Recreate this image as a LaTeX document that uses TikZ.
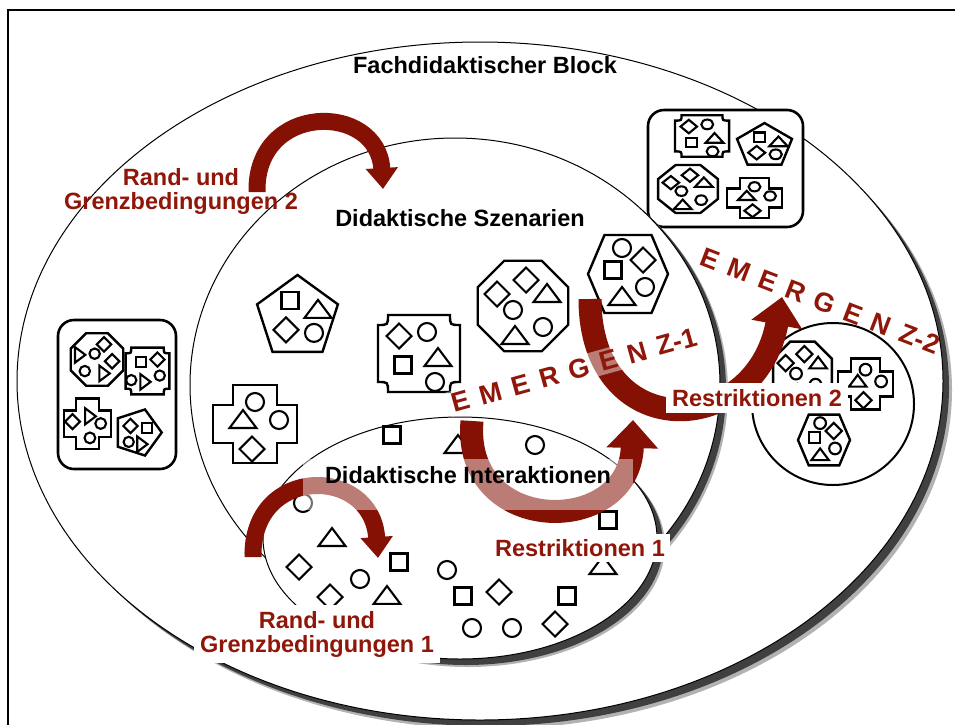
\documentclass[tikz,border=0pt]{standalone}
\usepackage{fontspec}
\setmainfont{Liberation Sans}
\usetikzlibrary{arrows.meta}
\definecolor{emred}{RGB}{143,22,8}
\definecolor{arrred}{RGB}{132,17,4}
\newcommand{\emfont}{\fontsize{27}{29}\selectfont\bfseries\spaceskip=11pt\relax}
\newcommand{\sqshape}[1]{\draw[shp] (#1) +(-8.5,-8.5) rectangle +(8.5,8.5);}
\newcommand{\trishape}[1]{\draw[shp] (#1) +(-13.5,8) -- +(13.5,8) -- +(0,-10) -- cycle;}
\newcommand{\circshape}[1]{\draw[shp] (#1) circle[radius=9];}
\newcommand{\dmdshape}[1]{\draw[shp] (#1) +(0,-12.5) -- +(12.5,0) -- +(0,12.5) -- +(-12.5,0) -- cycle;}
\tikzset{
  shp/.style={line width=2.1pt},
  cont/.style={line width=2.4pt,fill=white},
  lbl/.style={font=\fontsize{23.5}{24}\selectfont\bfseries,align=center},
  redlbl/.style={lbl,text=emred},
  thinarr/.style={draw=arrred,line width=17pt,-{Triangle[width=31pt,length=21pt]}},
  thickarr/.style={draw=arrred,line width=23pt,-{Triangle[width=50pt,length=28pt]}},
  penta/.pic={
    \draw[cont] (-90:42.5) -- (-18:42.5) -- (54:42.5) -- (126:42.5) -- (198:42.5) -- cycle;
    \sqshape{-7.5,-16.6}
    \trishape{20.5,-7.6}
    \dmdshape{-11.5,12.4}
    \circshape{16.5,15.4}
  },
  octa/.pic={
    \draw[cont] (22.5:49) -- (67.5:49) -- (112.5:49) -- (157.5:49) -- (202.5:49) -- (247.5:49) -- (292.5:49) -- (337.5:49) -- cycle;
    \dmdshape{-26,-12}
    \dmdshape{3,-26}
    \trishape{24,-12}
    \circshape{-10,4}
    \circshape{20,21}
    \trishape{-8,30}
  },
  hexa/.pic={
    \draw[cont] (-40,0) -- (-23.5,-39) -- (23.5,-39) -- (40,0) -- (23.5,39) -- (-23.5,39) -- cycle;
    \circshape{-6,-26}
    \dmdshape{15,-14}
    \sqshape{-15,-4}
    \circshape{17,13}
    \trishape{-6,23}
  },
  cross/.pic={
    \draw[cont] (-22,-39) -- (22,-39) -- (22,-19) -- (42,-19) -- (42,19) -- (22,19) -- (22,39) -- (-22,39) -- (-22,19) -- (-42,19) -- (-42,-19) -- (-22,-19) -- cycle;
    \circshape{0,-22}
    \trishape{-12,-4}
    \circshape{24,-4}
    \dmdshape{-3,25}
  },
  plaque/.pic={
    \draw[cont] (-31,-38.5) -- (31,-38.5) .. controls (31,-28.5) .. (41,-28.5) -- (41,28.5) .. controls (31,28.5) .. (31,38.5) -- (-31,38.5) .. controls (-31,28.5) .. (-41,28.5) -- (-41,-28.5) .. controls (-31,-28.5) .. (-31,-38.5) -- cycle;
    \dmdshape{-20,-17.5}
    \circshape{8,-21.5}
    \sqshape{-16,11.5}
    \trishape{19,4.5}
    \circshape{16,28.5}
  }
}
\begin{document}
\begin{tikzpicture}[x=1pt,y=-1pt]
\useasboundingbox (0,0) rectangle (955,724);
\clip (0,0) rectangle (955,724);
\draw[line width=2.5pt] (8,10) rectangle (990,760);
\fill[black!30] (489,390) ellipse[x radius=463,y radius=339];
\fill[black!75] (486,387) ellipse[x radius=463,y radius=339];
\draw[line width=1pt,fill=white] (480,381) ellipse[x radius=463,y radius=339];
\node[lbl] (fachblock) at (485,65) {Fachdidaktischer Block};
\draw[cont,line width=2.6pt,rounded corners=16pt] (648,110) rectangle (803,227);
\pic[xscale=.66,yscale=.54] at (702,136) {plaque};
\pic[xscale=.68,yscale=.54] at (764.5,146) {penta};
\pic[xscale=.66,yscale=.53] at (688,189) {octa};
\pic[xscale=.65,yscale=.51] at (754.5,198) {cross};
\draw[cont,line width=2.6pt,rounded corners=16pt] (58,320) rectangle (176,469);
\pic[scale=.58,rotate=-90] at (97,359.5) {octa};
\pic[scale=.57,rotate=-90] at (147.5,371) {plaque};
\pic[scale=.6,rotate=-90] at (87.5,423.5) {cross};
\pic[scale=.57,rotate=-90] at (137.5,432.5) {penta};
\fill[black!30] (463,392) ellipse[x radius=265,y radius=247];
\fill[black!75] (461,390) ellipse[x radius=265,y radius=247];
\draw[line width=1pt,fill=white] (455,385) ellipse[x radius=265,y radius=247];
\node[lbl] (szenarien) at (460,218) {Didaktische Szenarien};
\pic at (297.5,317.5) {penta};
\pic at (255,424) {cross};
\pic at (419,353.5) {plaque};
\pic at (523,306) {octa};
\pic at (628,274) {hexa};
\draw[line width=2pt,fill=white] (833,404) circle[radius=81];
\pic[scale=.65] at (802.5,371) {octa};
\pic[scale=.65] at (865.5,384) {cross};
\pic[scale=.65] at (824,440) {hexa};
\fill[black!30] (468,546) ellipse[x radius=197,y radius=121];
\fill[black!75] (466,544) ellipse[x radius=197,y radius=121];
\draw[line width=1pt,fill=white] (460,538) ellipse[x radius=197,y radius=121];
\sqshape{392,435}
\trishape{458,445}
\circshape{535,445}
\circshape{303,503}
\trishape{332,538}
\dmdshape{299,567}
\sqshape{399,562}
\circshape{360,579}
\dmdshape{330,597}
\trishape{387,596}
\circshape{447,570}
\sqshape{463,596}
\dmdshape{499,592}
\circshape{472,628}
\circshape{512,628}
\dmdshape{555,624}
\sqshape{567,596}
\sqshape{608,520}
\trishape{603,566}
\coordinate (a2s) at (257,192);
\coordinate (a2e) at (383,189);
\coordinate (a1s) at (253,557);
\coordinate (a1e) at (378,558);
\coordinate (r1s) at (472,421);
\coordinate (r1e) at (633,420);
\coordinate (r2s) at (590,299);
\coordinate (r2e) at (782,297);
\draw[thinarr] (a2s) .. controls (255,102) and (378,102) .. (a2e);
\draw[thinarr] (a1s) .. controls (251,465) and (372,465) .. (a1e);
\draw[thickarr] (r1s) .. controls (462,537) and (630,537) .. (r1e);
\draw[thickarr] (r2s) .. controls (590,445) and (755,440) .. (r2e);
\node[lbl,anchor=base,fill=white,fill opacity=.45,text opacity=1,text height=24pt,text depth=27pt,inner xsep=22pt,inner ysep=0pt] (interaktionen) at (468,483) {Didaktische Interaktionen};
\node[redlbl] (rand2) at (181,191) {Rand- und\\Grenzbedingungen 2};
\node[redlbl,fill=white,inner sep=6pt] (rand1) at (317,634) {Rand- und\\Grenzbedingungen 1};
\node[redlbl,fill=white,inner sep=5pt] (restr1) at (580,548) {Restriktionen 1};
\node[redlbl,fill=white,inner sep=6pt] (restr2) at (757,398) {Restriktionen 2};
\node[text=emred,font=\emfont,rotate=15.5,fill=white,fill opacity=.45,text opacity=1,inner sep=3pt] (emerg1) at (574,370) {E M E R G E N Z-1};
\node[text=emred,font=\emfont,rotate=-21] (emerg2) at (820,301) {E M E R G E N Z-2};
\end{tikzpicture}
\end{document}
